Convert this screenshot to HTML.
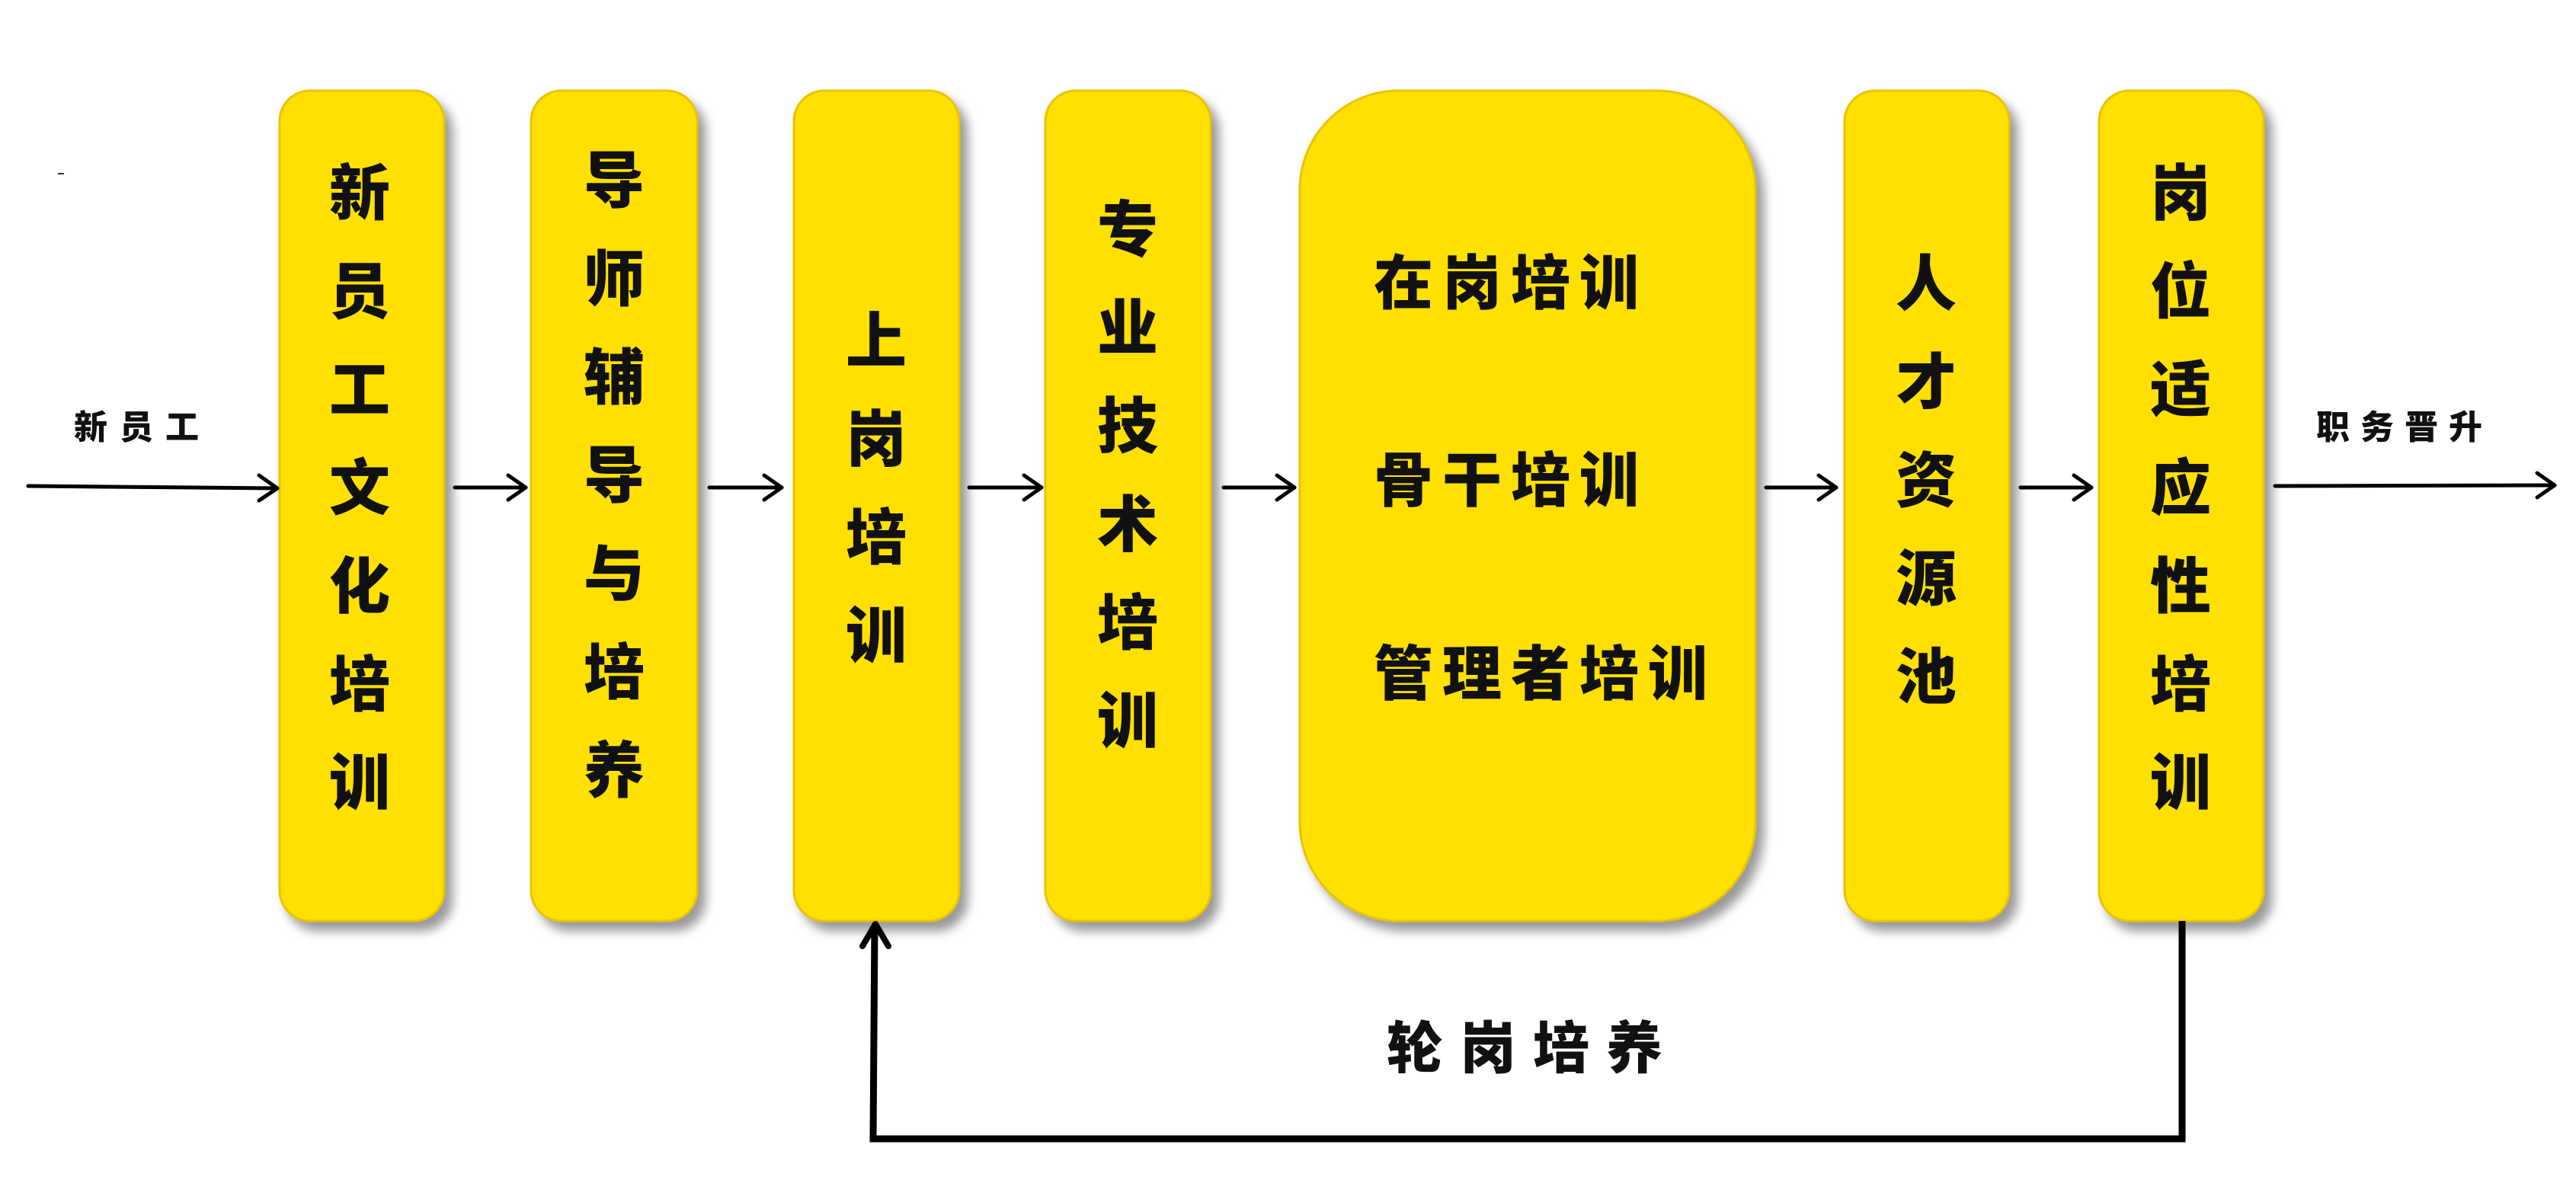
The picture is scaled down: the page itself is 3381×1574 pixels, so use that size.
<!DOCTYPE html>
<html><head><meta charset="utf-8"><style>
html,body{margin:0;padding:0;background:#fff;}
svg{display:block}
text{font-family:"Liberation Sans","Noto Sans CJK SC",sans-serif;font-weight:900;fill:#111;}
</style></head><body>
<svg width="3381" height="1574" viewBox="0 0 3381 1574" xmlns="http://www.w3.org/2000/svg">
<defs>
<filter id="sh" x="-20%" y="-10%" width="140%" height="120%">
<feDropShadow dx="10" dy="12" stdDeviation="7" flood-color="#777" flood-opacity="0.75"/>
</filter>
</defs>
<g fill="#FFE000" stroke="#E8C400" stroke-width="3" filter="url(#sh)">
<rect x="367" y="119" width="216" height="1090" rx="40"/>
<rect x="697" y="119" width="218" height="1090" rx="40"/>
<rect x="1042" y="119" width="217" height="1090" rx="40"/>
<rect x="1372" y="119" width="217" height="1090" rx="40"/>
<rect x="1706" y="119" width="598" height="1090" rx="130"/>
<rect x="2421" y="119" width="216" height="1090" rx="40"/>
<rect x="2755" y="119" width="216" height="1090" rx="40"/>
</g>
<g stroke="#000" stroke-width="5" fill="none" stroke-linecap="round" stroke-linejoin="round">
<line x1="37" y1="638" x2="364" y2="641"/><polyline points="340,624 364,641 340,657"/>
<line x1="597" y1="640" x2="690" y2="640"/><polyline points="667,624 690,640 667,656"/>
<line x1="931" y1="640" x2="1026" y2="640"/><polyline points="1003,624 1026,640 1003,656"/>
<line x1="1272" y1="640" x2="1367" y2="640"/><polyline points="1344,624 1367,640 1344,656"/>
<line x1="1606" y1="640" x2="1699" y2="640"/><polyline points="1676,624 1699,640 1676,656"/>
<line x1="2318" y1="640" x2="2410" y2="640"/><polyline points="2387,624 2410,640 2387,656"/>
<line x1="2652" y1="640" x2="2745" y2="640"/><polyline points="2722,624 2745,640 2722,656"/>
<line x1="2986" y1="638" x2="3353" y2="637"/><polyline points="3330,621 3353,637 3330,653"/>
</g>
<g stroke="#000" stroke-width="9" fill="none" stroke-linejoin="miter">
<polyline points="2864,1209 2864,1495 1146,1495 1148,1216"/>
<polyline points="1132,1242 1149,1213 1166,1242" stroke-width="8" stroke-linecap="round" stroke-linejoin="round"/>
</g>
<rect x="76" y="227" width="8" height="2" fill="#333"/>
<g font-size="80" text-anchor="middle">
<text x="472" y="282">新</text><text x="472" y="411">员</text><text x="472" y="540">工</text><text x="472" y="669">文</text><text x="472" y="798">化</text><text x="472" y="927">培</text><text x="472" y="1056">训</text>
<text x="806" y="266">导</text><text x="806" y="395">师</text><text x="806" y="524">辅</text><text x="806" y="653">导</text><text x="806" y="782">与</text><text x="806" y="911">培</text><text x="806" y="1040">养</text>
<text x="1150" y="476">上</text><text x="1150" y="605">岗</text><text x="1150" y="734">培</text><text x="1150" y="863">训</text>
<text x="1480" y="330">专</text><text x="1480" y="459">业</text><text x="1480" y="588">技</text><text x="1480" y="717">术</text><text x="1480" y="846">培</text><text x="1480" y="975">训</text>
<text x="2528" y="401">人</text><text x="2528" y="530">才</text><text x="2528" y="659">资</text><text x="2528" y="788">源</text><text x="2528" y="917">池</text>
<text x="2862" y="282">岗</text><text x="2862" y="411">位</text><text x="2862" y="540">适</text><text x="2862" y="669">应</text><text x="2862" y="798">性</text><text x="2862" y="927">培</text><text x="2862" y="1056">训</text>
</g>
<g font-size="78" letter-spacing="12">
<text x="1803" y="399">在岗培训</text>
<text x="1803" y="658">骨干培训</text>
<text x="1803" y="912">管理者培训</text>
<text x="1820" y="1402" font-size="74" letter-spacing="22">轮岗培养</text>
</g>
<g font-size="44" font-weight="700">
<text x="97" y="576" letter-spacing="16">新员工</text>
<text x="3040" y="576" letter-spacing="14">职务晋升</text>
</g>
</svg>
</body></html>
